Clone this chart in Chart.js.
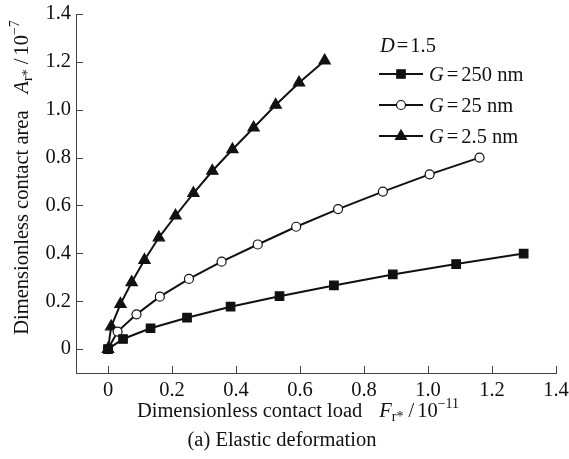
<!DOCTYPE html>
<html>
<head>
<meta charset="utf-8">
<script src="https://cdn.jsdelivr.net/npm/chart.js@4.4.0/dist/chart.umd.min.js"></script>
<style>
html,body{margin:0;padding:0;background:#fff;}
#wrap{width:569px;height:459px;position:relative;}
</style>
</head>
<body>
<div id="wrap"><canvas id="c" width="569" height="459"></canvas></div>
<script>
// ---- data ----
const seriesNames = ['250 nm', '25 nm', '2.5 nm'];
const load250 = [0, 0.047, 0.133, 0.247, 0.383, 0.536, 0.706, 0.890, 1.088, 1.299];
const area250 = [0, 0.042, 0.087, 0.131, 0.177, 0.221, 0.266, 0.312, 0.355, 0.399];
const load25  = [0, 0.030, 0.089, 0.162, 0.253, 0.355, 0.468, 0.588, 0.719, 0.859, 1.005, 1.161];
const area25  = [0, 0.073, 0.145, 0.219, 0.293, 0.365, 0.437, 0.511, 0.585, 0.658, 0.730, 0.800];
const load2p5 = [0, 0.010, 0.039, 0.074, 0.114, 0.159, 0.211, 0.267, 0.326, 0.389, 0.455, 0.524, 0.597, 0.677];
const area2p5 = [0, 0.094, 0.188, 0.279, 0.372, 0.466, 0.557, 0.651, 0.744, 0.834, 0.925, 1.020, 1.113, 1.205];
const xTicks = [0, 0.2, 0.4, 0.6, 0.8, 1.0, 1.2, 1.4];
const xTickLabels = ['0', '0.2', '0.4', '0.6', '0.8', '1.0', '1.2', '1.4'];
const yTicks = [0, 0.2, 0.4, 0.6, 0.8, 1.0, 1.2, 1.4];
const yTickLabels = ['0', '0.2', '0.4', '0.6', '0.8', '1.0', '1.2', '1.4'];

const SERIF = '"Liberation Serif", "Times New Roman", serif';
const zip = (xs, ys) => xs.map((x, i) => ({x: x, y: ys[i]}));

const datasets = [
  {label: seriesNames[0], data: zip(load250, area250), pointStyle: 'rect', pointRadius: 6,
   backgroundColor: '#111', borderColor: '#111', pointBackgroundColor: '#111'},
  {label: seriesNames[1], data: zip(load25, area25), pointStyle: 'circle', pointRadius: 4.5,
   backgroundColor: '#fff', borderColor: '#111', pointBackgroundColor: '#fff'},
  {label: seriesNames[2], data: zip(load2p5, area2p5), pointStyle: 'triangle', pointRadius: 6.5,
   backgroundColor: '#111', borderColor: '#111', pointBackgroundColor: '#111'}
].map(d => Object.assign({showLine: true, borderWidth: 2, pointBorderWidth: 1.2,
  pointBorderColor: '#111', tension: 0, fill: false}, d));

function drawRuns(ctx, runs, x, y, align) {
  let total = 0;
  runs.forEach(r => {
    if (r.gap) { r.w = r.gap; } else { ctx.font = r.font; r.w = ctx.measureText(r.t).width; }
    total += r.w;
  });
  let cx = align === 'center' ? x - total / 2 : x;
  ctx.textBaseline = 'alphabetic';
  ctx.textAlign = 'left';
  runs.forEach(r => {
    if (!r.gap) { ctx.font = r.font; ctx.fillText(r.t, cx, y + (r.dy || 0)); }
    cx += r.w;
  });
}

function drawMarker(ctx, style, x, y, fill) {
  ctx.save();
  ctx.fillStyle = fill; ctx.strokeStyle = '#111'; ctx.lineWidth = 1.2;
  ctx.beginPath();
  if (style === 'rect') { ctx.rect(x - 4.2, y - 4.2, 8.4, 8.4); }
  else if (style === 'circle') { ctx.arc(x, y, 4.5, 0, Math.PI * 2); }
  else { ctx.moveTo(x, y - 6); ctx.lineTo(x + 5.5, y + 3.5); ctx.lineTo(x - 5.5, y + 3.5); ctx.closePath(); }
  ctx.fill(); ctx.stroke();
  ctx.restore();
}

const decor = {
  id: 'decor',
  afterDraw(chart) {
    const ctx = chart.ctx;
    const xs = chart.scales.x, ys = chart.scales.y;
    ctx.save();
    // inward tick marks
    ctx.strokeStyle = '#444'; ctx.lineWidth = 1;
    xTicks.forEach(v => {
      const px = Math.round(xs.getPixelForValue(v)) + 0.5;
      ctx.beginPath(); ctx.moveTo(px, ys.bottom); ctx.lineTo(px, ys.bottom - 7); ctx.stroke();
    });
    yTicks.forEach(v => {
      const py = Math.round(ys.getPixelForValue(v)) + 0.5;
      ctx.beginPath(); ctx.moveTo(xs.left, py); ctx.lineTo(xs.left + 7, py); ctx.stroke();
    });
    ctx.fillStyle = '#111';
    const N = '20.5px ' + SERIF, I = 'italic 20.5px ' + SERIF, S = '14px ' + SERIF;
    // x axis title
    drawRuns(ctx, [
      {t: 'Dimensionless contact load', font: N},
      {gap: 17},
      {t: 'F', font: I},
      {t: 'r*', font: S, dy: 4},
      {gap: 5},
      {t: '/', font: N},
      {gap: 3},
      {t: '10', font: N},
      {t: '\u221211', font: S, dy: -9}
    ], 298, 417, 'center');
    // caption
    drawRuns(ctx, [{t: '(a) Elastic deformation', font: N}], 282, 446, 'center');
    // y axis title (rotated)
    ctx.save();
    ctx.translate(28, 177.5);
    ctx.rotate(-Math.PI / 2);
    drawRuns(ctx, [
      {t: 'Dimensionless contact area', font: N},
      {gap: 17},
      {t: 'A', font: I},
      {t: 'r*', font: S, dy: 4},
      {gap: 5},
      {t: '/', font: N},
      {gap: 3},
      {t: '10', font: N},
      {t: '\u22127', font: S, dy: -9}
    ], 0, 0, 'center');
    ctx.restore();
    // legend
    drawRuns(ctx, [{t: 'D', font: I}, {gap: 2}, {t: '=', font: N}, {gap: 2}, {t: '1.5', font: N}], 380, 52, 'left');
    const rowsY = [74, 105, 136];
    chart.data.datasets.forEach((ds, i) => {
      const y = rowsY[i];
      ctx.strokeStyle = '#111'; ctx.lineWidth = 2;
      ctx.beginPath(); ctx.moveTo(379, y); ctx.lineTo(423, y); ctx.stroke();
      drawMarker(ctx, ds.pointStyle, 401, y, ds.pointBackgroundColor);
      ctx.fillStyle = '#111';
      drawRuns(ctx, [{t: 'G', font: I}, {gap: 3}, {t: '=', font: N}, {gap: 3}, {t: ds.label, font: N}], 429, y + 7, 'left');
    });
    ctx.restore();
  }
};

new Chart(document.getElementById('c'), {
  type: 'scatter',
  data: {datasets: datasets},
  options: {
    responsive: false,
    animation: false,
    layout: {padding: {left: 0, top: 14, right: 13, bottom: 0}},
    plugins: {legend: {display: false}, tooltip: {enabled: false}},
    scales: {
      x: {
        type: 'linear', min: -0.1, max: 1.4,
        afterBuildTicks: s => { s.ticks = xTicks.map(v => ({value: v})); },
        afterFit: s => { s.height = 86; s.paddingLeft = 0; s.paddingRight = 0; },
        grid: {display: false, drawTicks: false},
        border: {display: true, color: '#444', width: 1},
        ticks: {color: '#111', font: {family: SERIF, size: 20.5}, padding: 5,
          maxRotation: 0, autoSkip: false,
          callback: (v, i) => xTickLabels[i]}
      },
      y: {
        type: 'linear', min: -0.1, max: 1.4,
        afterBuildTicks: s => { s.ticks = yTicks.map(v => ({value: v})); },
        afterFit: s => { s.width = 76; s.paddingTop = 0; s.paddingBottom = 0; },
        grid: {display: false, drawTicks: false},
        border: {display: true, color: '#444', width: 1},
        ticks: {color: '#111', font: {family: SERIF, size: 20.5}, padding: 5, autoSkip: false,
          callback: (v, i) => yTickLabels[i]}
      }
    }
  },
  plugins: [decor]
});
</script>
</body>
</html>
